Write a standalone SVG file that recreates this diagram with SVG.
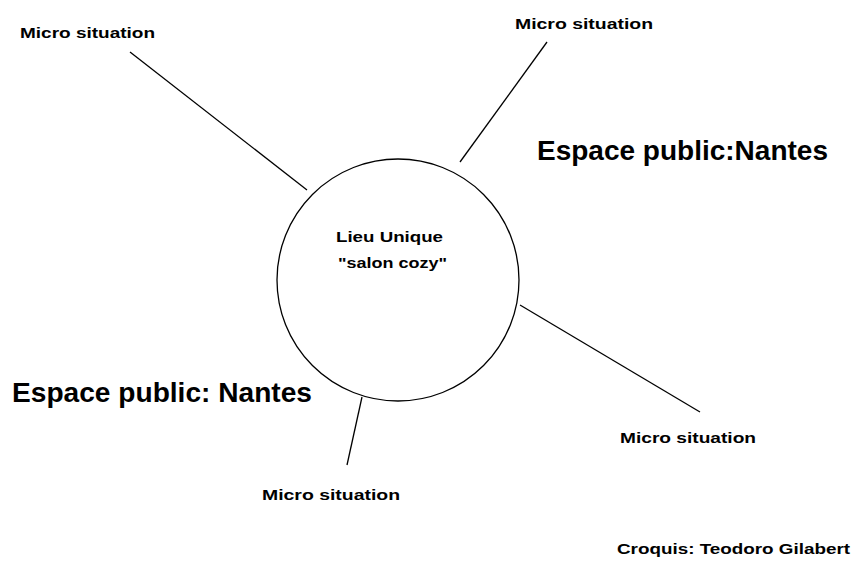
<svg xmlns="http://www.w3.org/2000/svg" width="855" height="565" viewBox="0 0 855 565">
<style>
.bg{fill:#fff}
.ln{stroke:#000;stroke-width:1.3;fill:none}
.s{font-family:"Liberation Sans",Arial,sans-serif;font-weight:bold;font-size:15px;fill:#000}
.b{font-family:"Liberation Sans",Arial,sans-serif;font-weight:bold;font-size:27px;fill:#000}
</style>
<rect class="bg" x="0" y="0" width="855" height="565"/>
<g id="connectors">
<line class="ln" x1="130" y1="52" x2="307" y2="190"/>
<line class="ln" x1="547" y1="42" x2="460" y2="162"/>
<line class="ln" x1="520" y1="305" x2="700" y2="412"/>
<line class="ln" x1="362" y1="397" x2="347" y2="465"/>
</g>
<g id="center">
<circle class="ln" cx="398" cy="280" r="121"/>
<text class="s" x="336" y="242" textLength="107" lengthAdjust="spacingAndGlyphs">Lieu Unique</text>
<text class="s" x="338" y="268" textLength="109" lengthAdjust="spacingAndGlyphs">"salon cozy"</text>
</g>
<g id="micro1"><text class="s" x="20" y="38" textLength="135" lengthAdjust="spacingAndGlyphs">Micro situation</text></g>
<g id="micro2"><text class="s" x="515" y="29" textLength="138" lengthAdjust="spacingAndGlyphs">Micro situation</text></g>
<g id="micro3"><text class="s" x="620" y="443" textLength="136" lengthAdjust="spacingAndGlyphs">Micro situation</text></g>
<g id="micro4"><text class="s" x="262" y="500" textLength="138" lengthAdjust="spacingAndGlyphs">Micro situation</text></g>
<g id="espace1"><text class="b" x="537" y="160" textLength="291" lengthAdjust="spacingAndGlyphs">Espace public:Nantes</text></g>
<g id="espace2"><text class="b" x="12" y="402" textLength="300" lengthAdjust="spacingAndGlyphs">Espace public: Nantes</text></g>
<g id="credit"><text class="s" x="617" y="554" textLength="233" lengthAdjust="spacingAndGlyphs">Croquis: Teodoro Gilabert</text></g>
</svg>
